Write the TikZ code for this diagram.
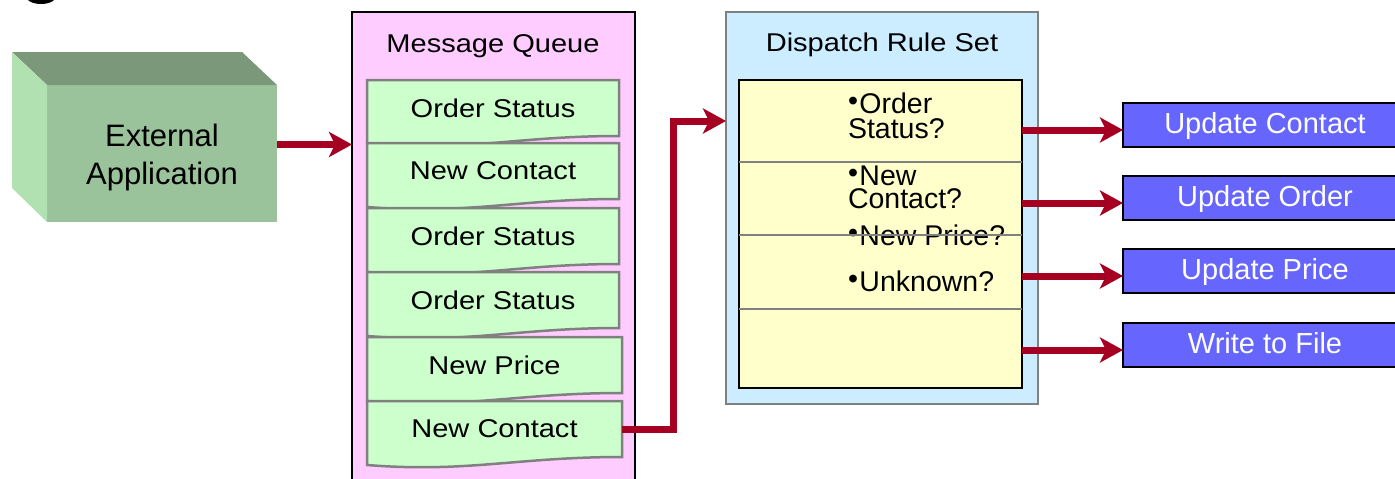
\documentclass[tikz,border=0pt]{standalone}
\usepackage{fontspec}
\setmainfont{Liberation Sans}
\newfontfamily\widefont{Liberation Sans}[FakeStretch=1.13]
\usetikzlibrary{arrows.meta,calc}
\definecolor{arrowred}{HTML}{A50021}
\definecolor{qpink}{HTML}{FFCCFF}
\definecolor{qgreen}{HTML}{CCFFCC}
\definecolor{rblue}{HTML}{CCECFF}
\definecolor{ryellow}{HTML}{FFFFCC}
\definecolor{obox}{HTML}{6666FF}
\definecolor{efront}{HTML}{9BC39B}
\definecolor{etop}{HTML}{7B987B}
\definecolor{eside}{HTML}{B1E1B1}
\definecolor{edgegray}{HTML}{808080}
\newcommand{\rbul}{\raisebox{3pt}{•}\hspace{1.5pt}}
\pgfdeclarelayer{back}
\pgfdeclarelayer{mid}
\pgfsetlayers{back,mid,main}
\begin{document}
\begin{tikzpicture}[x=1pt,y=-1pt,
  conn/.style={draw=arrowred,line width=7pt,-{Stealth[length=23pt,width=25pt,inset=6pt]}},
  widetext/.style={font=\widefont\fontsize{25.7}{30}\selectfont},
  title/.style={widetext,inner sep=0pt,outer sep=0pt,anchor=base},
  qitem/.style={widetext,minimum height=56pt,inner sep=0pt,outer sep=0pt},
  docstyle/.style={fill=qgreen,draw=edgegray,line width=2.5pt},
  mqbox/.style={fill=qpink,draw=black,line width=2.5pt,minimum width=283pt,minimum height=488pt,inner sep=0pt,outer sep=0pt},
  drsbox/.style={fill=rblue,draw=edgegray,line width=2.5pt,minimum width=312pt,minimum height=392pt,inner sep=0pt,outer sep=0pt},
  rulebox/.style={fill=ryellow,draw=black,line width=2.5pt,minimum width=283pt,minimum height=308pt,inner sep=0pt,outer sep=0pt},
  sepline/.style={draw=edgegray,line width=2.5pt},
  rtext/.style={font=\fontsize{28.5}{30}\selectfont,anchor=base west,inner sep=0pt,outer sep=0pt},
  extfront/.style={fill=efront,minimum width=230pt,minimum height=137pt,inner sep=0pt,outer sep=0pt},
  exttext/.style={font=\fontsize{31}{38}\selectfont,anchor=base,inner sep=0pt},
  outbox/.style={fill=obox,draw=black,line width=2.5pt,text=white,font=\fontsize{29}{32}\selectfont,text height=21pt,text depth=3.3pt,minimum width=284pt,minimum height=44pt,inner sep=0pt,outer sep=0pt}
]
\useasboundingbox (0,0) rectangle (1395,479);
\clip (0,0) rectangle (1395,479);
\fill[black] (41,-5) ellipse [x radius=16, y radius=9];

% External application (3D box)
\node[extfront] (ext) at (162,153.5) {};
\fill[etop] (ext.north west) -- ++(-35,-33) -- ($(ext.north east)+(-35,-33)$) -- (ext.north east) -- cycle;
\fill[eside] (ext.north west) -- ++(-35,-33) -- ($(ext.south west)+(-35,-34)$) -- (ext.south west) -- cycle;
\node[exttext] (ext1) at (162,146) {External};
\node[exttext] (ext2) at (162,184) {Application};

% Containers
\begin{pgfonlayer}{back}
\node[mqbox] (mq) at (493.5,256) {};
\node[drsbox] (drs) at (882,208) {};
\node[rulebox] (rules) at (880.5,234) {};
\end{pgfonlayer}
\node[title] (mqt) at (493,52) {Message Queue};
\node[title] (drst) at (882,51) {Dispatch Rule Set};

% Queue items
\foreach \n/\x/\y/\w/\t in {q1/493/108/252/Order Status,q2/493/171/252/New Contact,q3/493/236/252/Order Status,q4/493/300/252/Order Status,q5/494.5/365/255/New Price,q6/494.5/429/255/New Contact}{
  \node[qitem,minimum width=\w pt] (\n) at (\x,\y) {\t};
  \begin{pgfonlayer}{mid}
  \filldraw[docstyle] (\n.north west) -- (\n.north east) -- (\n.south east)
    .. controls ($(\n.south west)+(150,0)$) and ($(\n.south west)+(100,16)$) .. ($(\n.south west)+(0,8)$) -- cycle;
  \end{pgfonlayer}
}

% Rule texts
\node[rtext] (r1a) at (848,113) {\rbul Order};
\node[rtext] (r1b) at (848,138) {Status?};
\node[rtext] (r2a) at (848,185) {\rbul New};
\node[rtext] (r2b) at (848,208) {Contact?};
\node[rtext] (r3) at (848,245) {\rbul New Price?};
\node[rtext] (r4) at (848,291) {\rbul Unknown?};
\foreach \d in {82,155,229}{
  \draw[sepline] ($(rules.north west)+(0,\d)$) -- ($(rules.north east)+(0,\d)$);
}

% Output boxes and arrows
\foreach \i/\y/\t in {1/125/Update Contact,2/198/Update Order,3/271/Update Price,4/345/Write to File}{
  \node[outbox] (o\i) at (1265,\y) {\t};
  \draw[conn] ($(rules.east |- o\i.west)+(0,5)$) -- ($(o\i.west)+(0,5)$);
}

% Connectors
\draw[conn] ($(ext.east)+(0,-9)$) -- ($(ext.east -| mq.west)+(0,-9)$);
\coordinate (bend) at (673,121);
\draw[conn] (q6.east) -| (bend) -- (bend -| drs.west);
\end{tikzpicture}
\end{document}
